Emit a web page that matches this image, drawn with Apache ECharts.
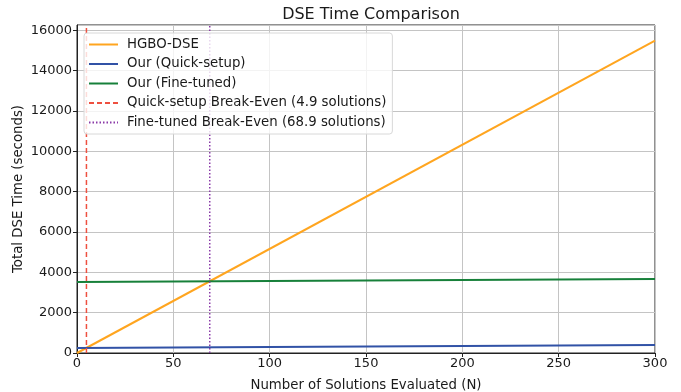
<!DOCTYPE html>
<html>
<head>
<meta charset="utf-8">
<script src="https://cdn.jsdelivr.net/npm/echarts@6/dist/echarts.min.js"></script>
<style>
  html, body { margin: 0; padding: 0; background: #fff; }
  #chart { width: 681px; height: 392px; }
</style>
</head>
<body>
<div id="chart"></div>
<script>
// straight lines, so endpoints are enough
var xEnds = [0, 300]
var hgboDse = [0, 15480]
var quickSetup = [250, 400]
var fineTuned = [3520, 3670]
var quickBreakEven = 4.9
var fineBreakEven = 68.9
var yMax = 16260

var FONT = 'DejaVu Sans'
var TEXT_COLOR = '#1a1a1a'

function pairs(xs, ys) {
  return xs.map(function (x, i) { return [x, ys[i]] })
}

var chart = echarts.init(document.getElementById('chart'))
chart.setOption({
  animation: false,
  backgroundColor: '#fff',
  textStyle: { fontFamily: FONT, color: TEXT_COLOR },
  title: {
    text: 'DSE Time Comparison',
    left: 366,
    textAlign: 'center',
    top: 2,
    textStyle: { fontFamily: FONT, fontSize: 16, fontWeight: 'normal', color: TEXT_COLOR }
  },
  legend: {
    orient: 'vertical',
    left: 84,
    top: 33,
    padding: [5, 6, 5, 4],
    itemGap: 6.5,
    itemWidth: 29,
    itemHeight: 13,
    backgroundColor: 'rgba(255,255,255,0.8)',
    borderColor: '#d8d8d8',
    borderWidth: 1,
    borderRadius: 3,
    itemStyle: { opacity: 0 },
    textStyle: { fontFamily: FONT, fontSize: 13.3, color: TEXT_COLOR, padding: [0, 0, 0, 4] }
  },
  grid: {
    left: 77,
    right: 26,
    top: 25,
    bottom: 39,
    outerBoundsMode: 'none',
    containLabel: false,
    show: true,
    borderColor: '#222',
    borderWidth: 1
  },
  xAxis: {
    type: 'value',
    min: 0,
    max: 300,
    interval: 50,
    name: 'Number of Solutions Evaluated (N)',
    nameLocation: 'middle',
    nameGap: 26,
    nameTextStyle: { fontFamily: FONT, fontSize: 13.3, color: TEXT_COLOR },
    axisLine: { show: true, lineStyle: { color: '#222' } },
    axisTick: { show: true, length: 4, lineStyle: { color: '#222' } },
    axisLabel: { fontFamily: FONT, fontSize: 13, color: TEXT_COLOR, margin: 4 },
    splitLine: { lineStyle: { color: '#c4c4c4', width: 1 } }
  },
  yAxis: {
    type: 'value',
    min: 0,
    max: yMax,
    interval: 2000,
    name: 'Total DSE Time (seconds)',
    nameLocation: 'middle',
    nameGap: 52,
    nameMoveOverlap: false,
    nameTextStyle: { fontFamily: FONT, fontSize: 13.3, color: TEXT_COLOR },
    axisLine: { show: true, lineStyle: { color: '#222' } },
    axisTick: { show: true, length: 4, lineStyle: { color: '#222' } },
    axisLabel: {
      fontFamily: FONT, fontSize: 13, color: TEXT_COLOR, margin: 5,
      showMaxLabel: false,
      formatter: function (v) { return String(v) }
    },
    splitLine: { lineStyle: { color: '#c4c4c4', width: 1 } }
  },
  series: [
    {
      name: 'HGBO-DSE',
      type: 'line',
      symbol: 'none',
      data: pairs(xEnds, hgboDse),
      lineStyle: { color: '#ffa51f', width: 2 },
      itemStyle: { color: '#ffa51f' }
    },
    {
      name: 'Our (Quick-setup)',
      type: 'line',
      symbol: 'none',
      data: pairs(xEnds, quickSetup),
      lineStyle: { color: '#3152a6', width: 2 },
      itemStyle: { color: '#3152a6' }
    },
    {
      name: 'Our (Fine-tuned)',
      type: 'line',
      symbol: 'none',
      data: pairs(xEnds, fineTuned),
      lineStyle: { color: '#17803a', width: 2 },
      itemStyle: { color: '#17803a' }
    },
    {
      name: 'Quick-setup Break-Even (4.9 solutions)',
      type: 'line',
      symbol: 'none',
      data: [[quickBreakEven, 0], [quickBreakEven, yMax]],
      lineStyle: { color: '#ee5040', width: 1.5, type: [5, 3] },
      itemStyle: { color: '#ee5040' }
    },
    {
      name: 'Fine-tuned Break-Even (68.9 solutions)',
      type: 'line',
      symbol: 'none',
      data: [[fineBreakEven, 0], [fineBreakEven, yMax]],
      lineStyle: { color: '#8a3aa8', width: 1.5, type: [1.5, 2] },
      itemStyle: { color: '#8a3aa8' }
    }
  ]
})
</script>
</body>
</html>
